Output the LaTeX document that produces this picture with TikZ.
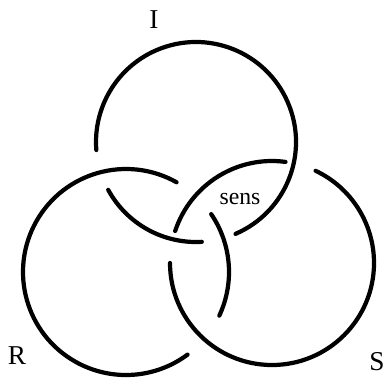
\documentclass[tikz,border=0pt]{standalone}
\usepackage{fontspec}
\setmainfont{Liberation Serif}

\begin{document}
\begin{tikzpicture}[ring/.style={black,line width=2.4pt,line cap=round},
  lbl/.style={font=\fontsize{15.5}{18}\selectfont}]
  \useasboundingbox (0,0) rectangle (7.72,-7.56);
  \coordinate (cI) at (3.92,-2.84); \coordinate (cR) at (2.52,-5.44); \coordinate (cS) at (5.44,-5.26);
  % ring I
  \draw[ring] ([shift={(-66.7:2)}]cI) arc (-66.7:184.6:2);
  \draw[ring] ([shift={(208.6:2)}]cI) arc (208.6:273.3:2);
  % ring R
  \draw[ring] ([shift={(60.6:2.06)}]cR) arc (60.6:306.7:2.06);
  \draw[ring] ([shift={(-25.1:2.06)}]cR) arc (-25.1:34.2:2.06);
  % ring S
  \draw[ring] ([shift={(82.4:2.04)}]cS) arc (82.4:161.7:2.04);
  \draw[ring] ([shift={(180:2.04)}]cS) arc (180:424.7:2.04);
  \node[lbl] (labI) at (3.08,-0.39) {I};
  \node[lbl] (labR) at (0.34,-7.12) {R};
  \node[lbl] (labS) at (7.54,-7.24) {S};
  \node[font=\fontsize{13.5}{16}\selectfont] (sens) at (4.80,-3.98) {sens};
\end{tikzpicture}
\end{document}
